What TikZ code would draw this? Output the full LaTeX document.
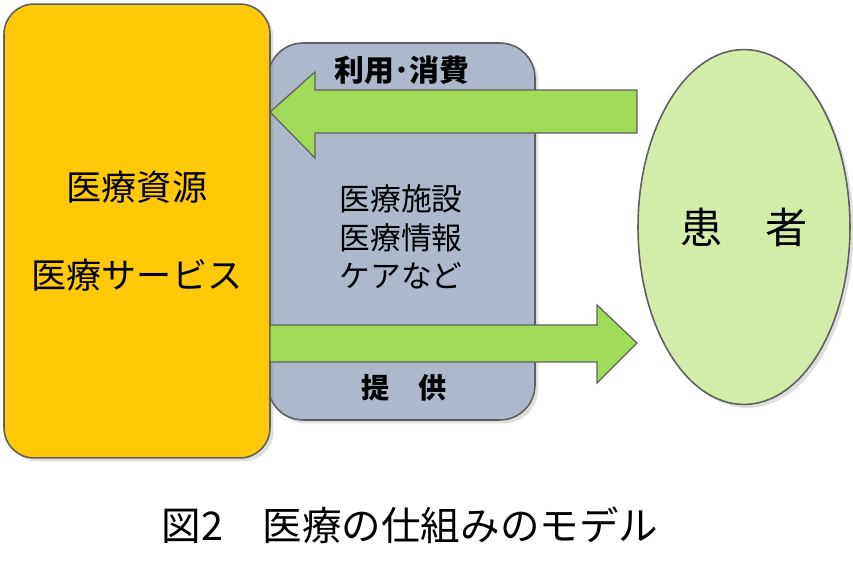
\documentclass[tikz,border=0pt]{standalone}
\usepackage{fontspec}
\setmainfont{Noto Sans CJK JP}
\usetikzlibrary{shapes.geometric,shadows}
\definecolor{resource}{RGB}{255,201,8}
\definecolor{facility}{RGB}{173,185,202}
\definecolor{flow}{RGB}{160,219,90}
\definecolor{patient}{RGB}{212,236,170}
\definecolor{edge}{RGB}{95,95,95}

\begin{document}
\begin{tikzpicture}[x=0.02cm,y=-0.02cm,thick,
    box node/.style={rectangle,draw=edge,line width=0.9pt,inner sep=0pt,align=center,drop shadow={opacity=0.25,shadow xshift=2pt,shadow yshift=-2pt}},
    flow arrow/.style={fill=flow,draw=edge,line width=0.7pt},
    tag/.style={font=\fontsize{16}{19}\selectfont\bfseries}]
    \useasboundingbox (0,0) rectangle (853,575);
    \node[box node, fill=facility, rounded corners=0.7cm, minimum width=5.34cm, minimum height=7.54cm] (info) at (401.5,231.5) {};
    \node[align=center, font=\fontsize{17.5}{22}\selectfont] (infotext) at (401,237) {医療施設\\医療情報\\ケアなど};
    \node[box node, fill=resource, rounded corners=0.6cm, minimum width=5.32cm, minimum height=9.08cm, font=\fontsize{20}{50}\selectfont] (res) at (137,231) {医療資源\\医療サービス};
    \draw[flow arrow] (637,90) -- (315,90) -- (315,72) -- (270,112) -- (315,158) -- (315,133) -- (637,133) -- cycle;
    \draw[flow arrow] (270,325) -- (597,325) -- (597,305) -- (637,343) -- (597,383) -- (597,362) -- (270,362) -- cycle;
    \node[box node, ellipse, fill=patient, minimum width=4.24cm, minimum height=7.1cm, font=\fontsize{24}{28}\selectfont] (pat) at (744,227) {患　者};
    \node[tag, font=\fontsize{17}{20}\selectfont\bfseries] (use) at (402,70) {利用･消費};
    \node[tag] (give) at (404,388) {提　供};
    \node[font=\fontsize{22.5}{26}\selectfont] (cap) at (410,525) {図2　医療の仕組みのモデル};
\end{tikzpicture}
\end{document}
